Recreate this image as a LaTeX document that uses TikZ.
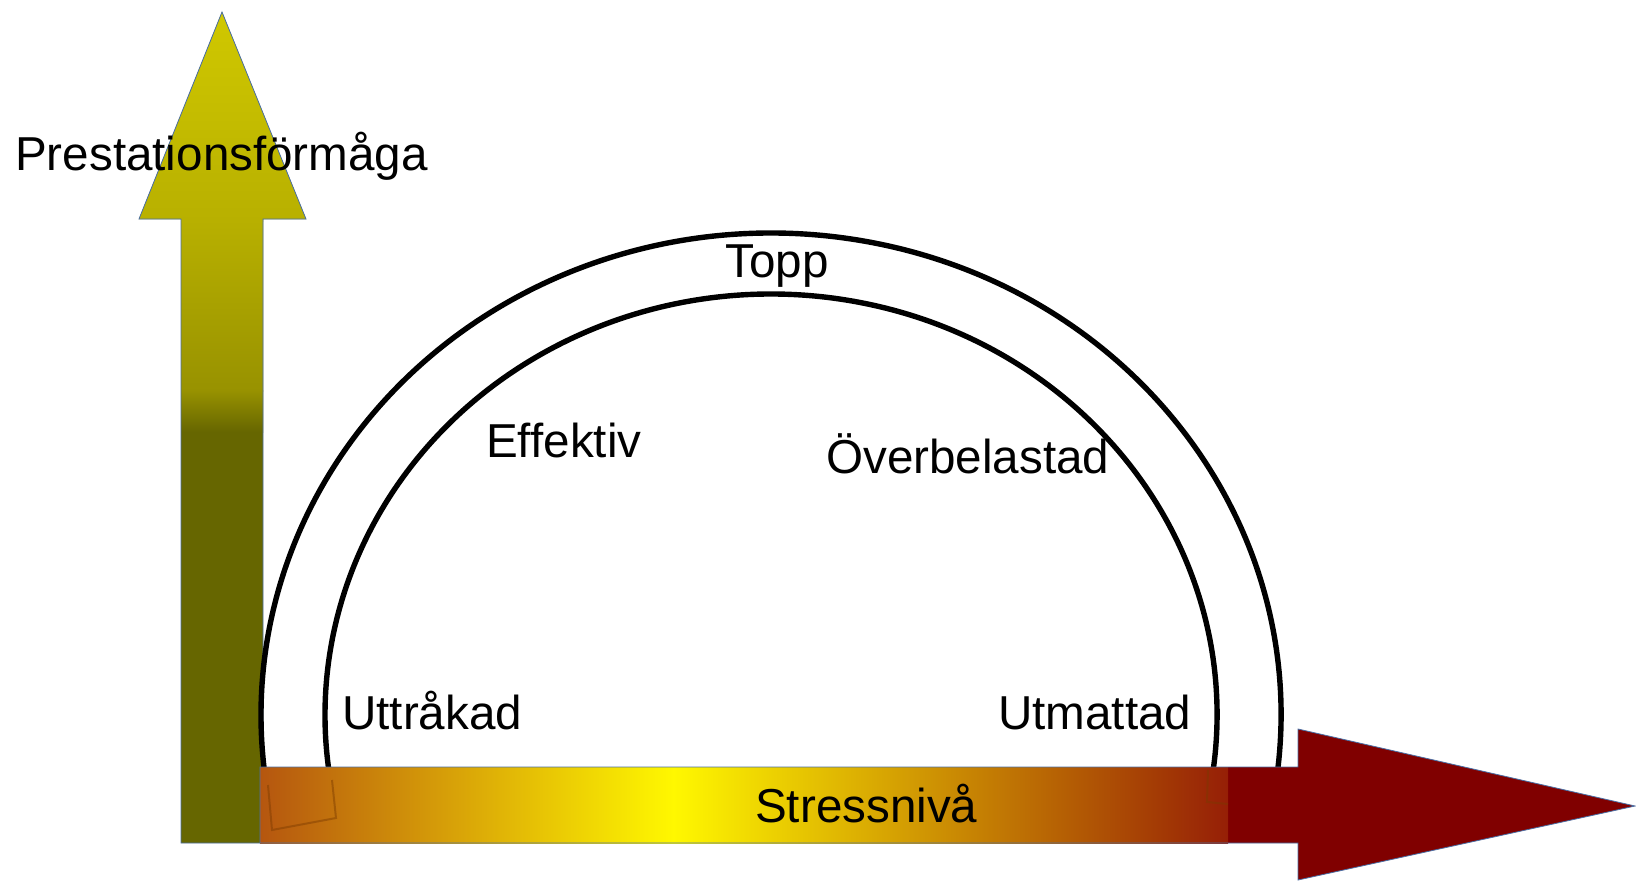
\documentclass[tikz,border=0pt]{standalone}
\usepackage{fontspec}
\setmainfont{Liberation Sans}
\definecolor{olivedk}{HTML}{666600}
\definecolor{olivetop}{HTML}{D0C800}
\definecolor{olivemid}{HTML}{B8B000}
\definecolor{olivelow}{HTML}{989200}
\definecolor{edgeblue}{HTML}{4A6FA5}
\definecolor{barleft}{HTML}{B5560F}
\definecolor{barq}{HTML}{D89410}
\definecolor{baryel}{HTML}{FFF800}
\definecolor{barmid}{HTML}{D9A000}
\definecolor{barright}{HTML}{961F06}
\definecolor{darkred}{HTML}{800000}
\definecolor{ghost}{HTML}{7A3A00}
\tikzset{
  arrowedge/.style={draw=edgeblue, line width=0.8pt},
  arcline/.style={draw=black, line width=5.4pt},
  lbl/.style={inner sep=0pt, font=\fontsize{47.6}{57}\selectfont, text=black},
}
\begin{document}
\begin{tikzpicture}[x=1pt,y=-1pt]
\useasboundingbox (0,0) rectangle (1636,881);
\fill[white] (0,0) rectangle (1636,881);
% vertical arrow
\path[fill=olivedk] (181,843) -- (181,219) -- (139,219) -- (222,12) -- (306,219) -- (263,219) -- (263,843) -- cycle;
\begin{scope}
\clip (181,843) -- (181,219) -- (139,219) -- (222,12) -- (306,219) -- (263,219) -- (263,843) -- cycle;
\shade[top color=olivetop, bottom color=olivemid] (130,11) rectangle (310,221);
\shade[top color=olivemid, bottom color=olivelow] (130,220) rectangle (310,391);
\shade[top color=olivelow, bottom color=olivedk] (130,390) rectangle (310,432);
\end{scope}
\draw[arrowedge] (181,843) -- (181,219) -- (139,219) -- (222,12) -- (306,219) -- (263,219) -- (263,843) -- cycle;
% arcs
\coordinate (c) at (771,715);
\draw[arcline] ([shift={(c)}] 10:510 and 482) arc[start angle=10, end angle=-190, x radius=510, y radius=482];
\draw[arcline] ([shift={(c)}] 10:446 and 421) arc[start angle=10, end angle=-190, x radius=446, y radius=421];
% horizontal arrow
\path[fill=darkred] (260,767) -- (1298,767) -- (1298,729) -- (1635,806) -- (1298,880) -- (1298,843) -- (260,843) -- cycle;
\begin{scope}
\clip (260,767) rectangle (1228,843);
\shade[left color=barleft, middle color=barq, right color=baryel] (260,760) rectangle (674,850);
\shade[left color=baryel, middle color=barmid, right color=barright] (673,760) rectangle (1228,850);
\draw[ghost, opacity=0.45, line width=2pt] (268,785) -- (272,830) -- (336,818) -- (332,780);
\draw[ghost, opacity=0.45, line width=2pt] (1208,770) -- (1207,802) -- (1228,804);
\end{scope}
\draw[arrowedge] (260,767) -- (1298,767) -- (1298,729) -- (1635,806) -- (1298,880) -- (1298,843) -- (260,843) -- cycle;
% labels
\node[lbl, anchor=base west] (ylab) at (15,170) {Prestationsförmåga};
\node[lbl, anchor=base] (topp) at (777,277) {Topp};
\node[lbl, anchor=base west] (eff) at (486,457) {Effektiv};
\node[lbl, anchor=base west] (over) at (826,473) {Överbelastad};
\node[lbl, anchor=base west] (utt) at (342,729) {Uttråkad};
\node[lbl, anchor=base west] (utm) at (998,729) {Utmattad};
\node[lbl, anchor=base west] (xlab) at (755,822) {Stressnivå};
\end{tikzpicture}
\end{document}
